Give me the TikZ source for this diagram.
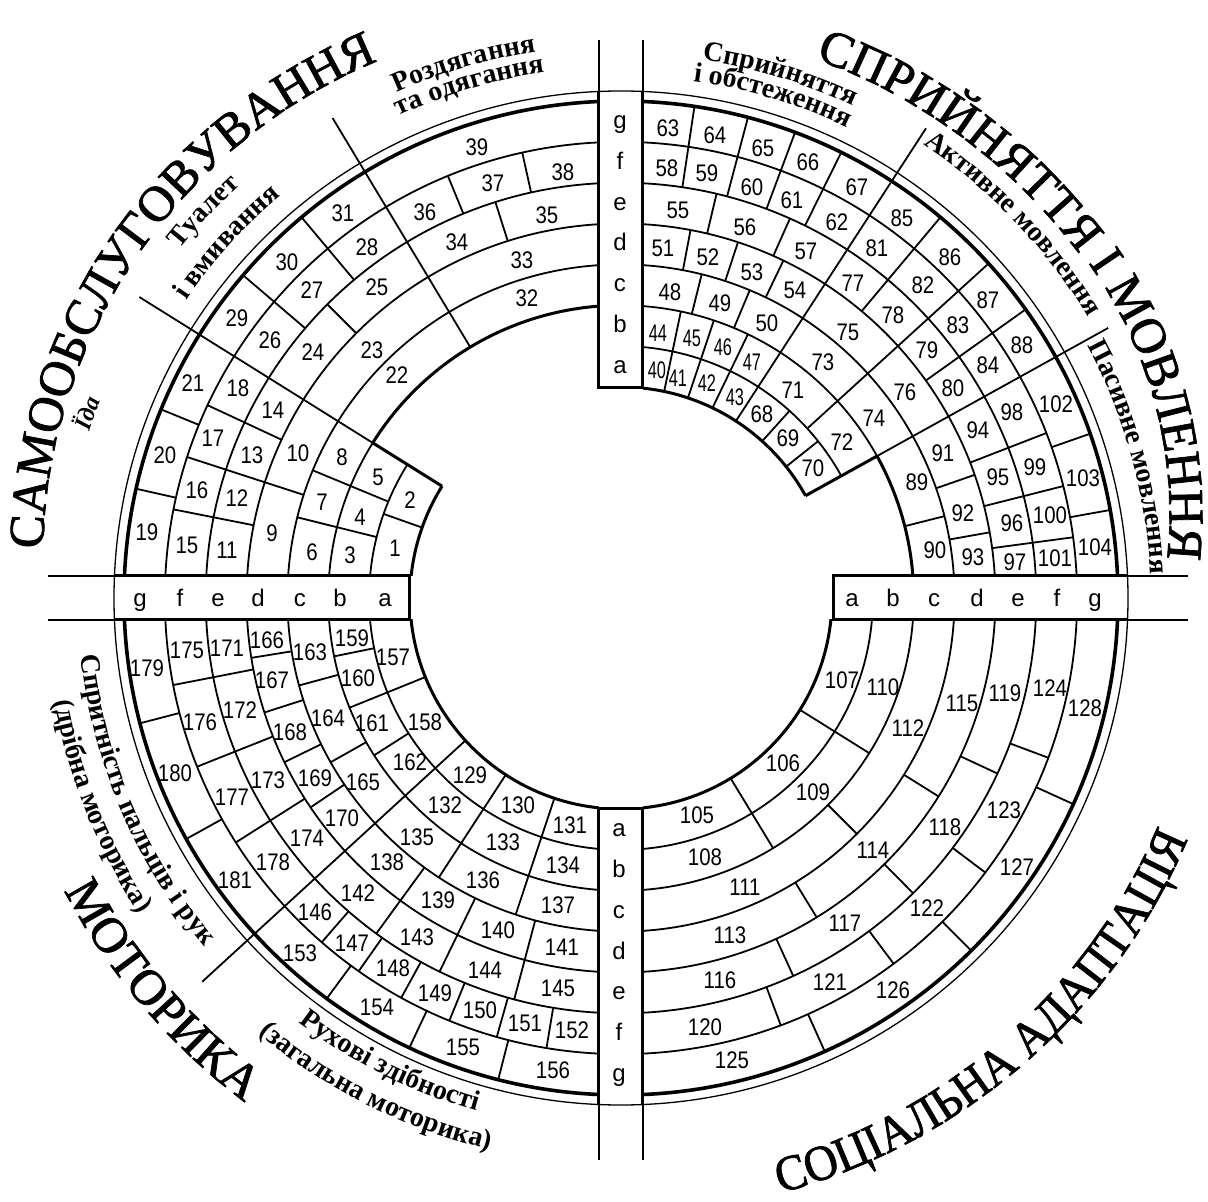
\documentclass[tikz,border=0pt]{standalone}
\usepackage{fontspec}
\setmainfont{Liberation Serif}
\newfontfamily\numfam[FakeStretch=0.85]{Liberation Sans}
\newfontfamily\numnarrow[FakeStretch=0.68]{Liberation Sans}
\newfontfamily\letfam{Liberation Sans}
\newfontfamily\bigfam[FakeBold=1.5]{Liberation Serif}
\newfontfamily\bignarrow[FakeStretch=0.93,FakeBold=1.5]{Liberation Serif}
\usetikzlibrary{decorations.text}

\def\radA{211}
\def\radB{251.86}
\def\radC{292.71}
\def\radD{333.57}
\def\radE{374.43}
\def\radF{415.29}
\def\radG{456.14}
\def\radH{497}
\def\radT{507}

\newcommand\bigfnt{\bigfam\fontsize{50}{60}\selectfont}
\newcommand\bigfntn{\bignarrow\fontsize{50}{60}\selectfont}
\newcommand\labfnt{\bfseries\fontsize{28}{32}\selectfont}
\newcommand\idafnt{\bfseries\itshape\fontsize{24}{28}\selectfont}

\tikzset{
 cell/.style={line width=1.8pt},
 border/.style={line width=3pt},
 outerc/.style={line width=3.6pt},
 thinl/.style={line width=1.3pt},
 num/.style={font=\numfam\fontsize{24}{26}\selectfont, inner sep=0pt},
 numsm/.style={font=\numnarrow\fontsize{24}{26}\selectfont, inner sep=0pt},
 letr/.style={font=\letfam\fontsize{24}{26}\selectfont, inner sep=0pt, anchor=base},
 bigtxt/.style={decorate, decoration={text along path, text align=center, text={|\bigfnt|#1}}},
 bigtxtn/.style={decorate, decoration={text along path, text align=center, text={|\bigfntn|#1}}},
 labtxt/.style={decorate, decoration={text along path, text align=center, text={|\labfnt|#1}}},
 idatxt/.style={decorate, decoration={text along path, text align=center, text={|\idafnt|#1}}},
}
\newcommand\dv[3]{\draw[cell] (#1:#2) -- (#1:#3);}

\begin{document}
\begin{tikzpicture}[x=1pt,y=1pt]
\useasboundingbox (-621,-604) rectangle (587,598);

% ---------- quadrant arcs ----------
% top-left
\begin{scope}
\clip (-700,22) rectangle (-22,700);
\draw[border] (148:\radA) arc[start angle=148,end angle=180,radius=\radA];
\draw[cell] (148:\radB) arc[start angle=148,end angle=180,radius=\radB];
\draw[border] (90:\radC) arc[start angle=90,end angle=148,radius=\radC];
\draw[cell] (148:\radC) arc[start angle=148,end angle=180,radius=\radC];
\foreach \r in {\radD,\radE,\radF,\radG} \draw[cell] (90:\r) arc[start angle=90,end angle=180,radius=\r];
\draw[outerc] (90:\radH) arc[start angle=90,end angle=180,radius=\radH];
\end{scope}
% top-right
\begin{scope}
\clip (22,22) rectangle (700,700);
\draw[border] (29:\radA) arc[start angle=29,end angle=90,radius=\radA];
\draw[cell] (29:\radB) arc[start angle=29,end angle=90,radius=\radB];
\draw[border] (0:\radC) arc[start angle=0,end angle=29,radius=\radC];
\draw[cell] (29:\radC) arc[start angle=29,end angle=90,radius=\radC];
\foreach \r in {\radD,\radE,\radF,\radG} \draw[cell] (0:\r) arc[start angle=0,end angle=90,radius=\r];
\draw[outerc] (0:\radH) arc[start angle=0,end angle=90,radius=\radH];
\end{scope}
% bottom-left
\begin{scope}
\clip (-700,-22) rectangle (-22,-700);
\draw[border] (180:\radA) arc[start angle=180,end angle=270,radius=\radA];
\foreach \r in {\radB,\radC,\radD,\radE,\radF,\radG} \draw[cell] (180:\r) arc[start angle=180,end angle=270,radius=\r];
\draw[outerc] (180:\radH) arc[start angle=180,end angle=270,radius=\radH];
\end{scope}
% bottom-right
\begin{scope}
\clip (22,-22) rectangle (700,-700);
\draw[border] (270:\radA) arc[start angle=270,end angle=360,radius=\radA];
\foreach \r in {\radB,\radC,\radD,\radE,\radF,\radG} \draw[cell] (270:\r) arc[start angle=270,end angle=360,radius=\r];
\draw[outerc] (270:\radH) arc[start angle=270,end angle=360,radius=\radH];
\end{scope}

% thin outer circle
\draw[thinl] (0,0) circle[radius=\radT];

% ---------- strips ----------
\draw[border] (-507,22) -- (-211,22) -- (-211,-22) -- (-507,-22);
\draw[border] (507,22) -- (212,22) -- (212,-22) -- (507,-22);
\draw[border] (-22,507) -- (-22,210) -- (22,210) -- (22,507);
\draw[border] (-22,-507) -- (-22,-210) -- (22,-210) -- (22,-507);
\draw[thinl] (-573,22) -- (-507,22);
\draw[thinl] (-573,-22) -- (-507,-22);
\draw[thinl] (507,22) -- (567,22);
\draw[thinl] (507,-22) -- (567,-22);
\draw[thinl] (-22,507) -- (-22,558);
\draw[thinl] (22,507) -- (22,558);
\draw[thinl] (-22,-507) -- (-22,-562);
\draw[thinl] (22,-507) -- (22,-562);

% strip letters
\foreach \l/\x in {a/-236,b/-281,c/-321,d/-363,e/-403,f/-441,g/-481}
  \node[letr] (L\l) at (\x,-9) {\l};
\foreach \l/\x in {a/231,b/272,c/313,d/356,e/397,f/436,g/474}
  \node[letr] (R\l) at (\x,-9) {\l};
\foreach \l/\y in {a/231.4,b/272.3,c/313.1,d/354,e/394.9,f/435.7,g/476.6}
  \node[letr] (T\l) at (-1,\y-7) {\l};
\foreach \l/\y in {a/231.4,b/272.3,c/313.1,d/354,e/394.9,f/435.7,g/476.6}
  \node[letr] (B\l) at (-2,-\y-7) {\l};

% ---------- sector dividers ----------
\draw[border] (148:\radA) -- (148:\radC);
\draw[cell] (148:\radC) -- (148:568);
\draw[cell] (121:\radC) -- (121:560);
\draw[cell] (57:\radA) -- (57:560);
\draw[border] (29:\radA) -- (29:\radC);
\draw[cell] (29:\radC) -- (29:557);
\draw[cell] (222.5:\radA) -- (222.5:568);

% ---------- cell dividers ----------
% top-left
\dv{160.5}{\radA}{\radB}
\dv{166}{\radB}{\radD}
\dv{157.5}{\radB}{\radD}
\dv{162}{\radD}{\radG}
\dv{168.8}{\radE}{\radG}
\dv{155}{\radE}{\radG}
\dv{167.3}{\radG}{\radH}
\dv{157.7}{\radG}{\radH}
\dv{135}{\radE}{\radF}
\dv{139.5}{\radF}{\radH}
\dv{130}{\radF}{\radH}
\dv{107.6}{\radE}{\radF}
\dv{112.3}{\radF}{\radG}
\dv{102.5}{\radF}{\radG}
% top-right
\dv{78.2}{\radA}{\radC}
\dv{71.5}{\radA}{\radC}
\dv{64.3}{\radA}{\radC}
\dv{76}{\radC}{\radD}
\dv{67.3}{\radC}{\radD}
\dv{79.3}{\radD}{\radE}
\dv{71.8}{\radD}{\radE}
\dv{64.3}{\radD}{\radE}
\dv{76.7}{\radE}{\radF}
\dv{66}{\radE}{\radF}
\dv{81.5}{\radF}{\radH}
\dv{75.2}{\radF}{\radH}
\dv{69.5}{\radF}{\radH}
\dv{63.7}{\radF}{\radH}
\dv{48}{\radA}{\radB}
\dv{38.5}{\radA}{\radB}
\dv{42.3}{\radB}{\radH}
\dv{50}{\radE}{\radH}
\dv{35.5}{\radE}{\radH}
\dv{14.2}{\radC}{\radD}
\dv{19.2}{\radD}{\radE}
\dv{10.1}{\radD}{\radE}
\dv{21.2}{\radE}{\radG}
\dv{14.2}{\radE}{\radG}
\dv{7.65}{\radE}{\radG}
\dv{19.3}{\radG}{\radH}
\dv{10.2}{\radG}{\radH}
% bottom-left
\dv{202}{\radA}{\radC}
\dv{191.5}{\radB}{\radC}
\dv{212.5}{\radB}{\radC}
\dv{195.2}{\radC}{\radD}
\dv{209.5}{\radC}{\radD}
\dv{189.2}{\radD}{\radE}
\dv{197.8}{\radD}{\radE}
\dv{206}{\radD}{\radE}
\dv{214}{\radD}{\radE}
\dv{191}{\radE}{\radG}
\dv{201.7}{\radE}{\radG}
\dv{212.4}{\radE}{\radG}
\dv{194.6}{\radG}{\radH}
\dv{209}{\radG}{\radH}
\dv{236.9}{\radA}{\radD}
\dv{251.6}{\radA}{\radD}
\dv{233.9}{\radD}{\radF}
\dv{244.1}{\radD}{\radF}
\dv{255.1}{\radD}{\radF}
\dv{229}{\radF}{\radG}
\dv{234.9}{\radF}{\radG}
\dv{241.2}{\radF}{\radG}
\dv{247.9}{\radF}{\radG}
\dv{254.2}{\radF}{\radG}
\dv{260.6}{\radF}{\radG}
\dv{233.7}{\radG}{\radH}
\dv{244.8}{\radG}{\radH}
\dv{255.7}{\radG}{\radH}
% bottom-right
\dv{301.3}{\radA}{\radC}
\dv{328}{\radA}{\radC}
\dv{315}{\radC}{\radD}
\dv{301.5}{\radD}{\radE}
\dv{328}{\radD}{\radE}
\dv{294.5}{\radE}{\radF}
\dv{314.7}{\radE}{\radF}
\dv{335}{\radE}{\radF}
\dv{290.5}{\radF}{\radG}
\dv{306.7}{\radF}{\radG}
\dv{323}{\radF}{\radG}
\dv{339.5}{\radF}{\radG}
\dv{294.2}{\radG}{\radH}
\dv{314.8}{\radG}{\radH}
\dv{335.5}{\radG}{\radH}

% ---------- cell numbers (image coordinates) ----------
\begin{scope}[y=-1pt, shift={(-621,-598)}]
\foreach \n/\x/\y in {1/395/548, 2/410/500, 3/350/555, 4/360/517, 5/378/477, 6/312/552, 7/322/502, 8/342/457, 9/272/533, 10/298/453, 11/227/550, 12/237/498, 13/252/455, 14/273/410, 15/187/545, 16/197/490, 17/213/438, 18/238/388, 19/147/532, 20/165/455, 21/193/383, 22/397/375, 23/372/350, 24/313/352, 25/377/287, 26/270/340, 27/312/290, 28/367/247, 29/237/318, 30/287/262, 31/343/213, 32/527/298, 33/522/260, 34/457/242, 35/547/215, 36/425/212, 37/493/183, 38/563/172, 39/477/147}
  \node[num] (n\n) at (\x,\y) {\n};
\foreach \n/\x/\y in {40/657/370, 41/678/378, 42/707/383, 43/735/397, 44/658/333, 45/692/338, 46/723/347, 47/752/362}
  \node[numsm] (n\n) at (\x,\y) {\n};
\foreach \n/\x/\y in {48/670/292, 49/720/303, 50/767/323, 51/663/248, 52/708/257, 53/752/272, 54/795/290, 55/678/210, 56/745/227, 57/806/251, 58/667/168, 59/707/173, 60/752/187, 61/792/200, 62/837/222, 63/668/128, 64/715/135, 65/763/148, 66/808/162, 67/857/187, 68/762/414, 69/788/438, 70/813/468, 71/793/390, 72/842/442, 73/823/362, 74/874/418, 75/848/332, 76/905/392, 77/853/283, 78/893/315, 79/927/350, 80/953/388, 81/877/248, 82/923/285, 83/958/325, 84/988/365, 85/902/218, 86/950/257, 87/988/300, 88/1022/345, 89/917/482, 90/935/550, 91/943/453, 92/963/513, 93/973/557, 94/978/430, 95/998/477, 96/1012/523, 97/1015/562, 98/1012/412, 99/1035/467, 100/1050/515, 101/1055/558, 102/1056/404, 103/1083/478, 104/1095/547}
  \node[num] (n\n) at (\x,\y) {\n};
\foreach \n/\x/\y in {105/697/815, 106/783/763, 107/842/680, 108/705/857, 109/813/792, 110/883/687, 111/745/887, 112/908/728, 113/730/935, 114/873/850, 115/962/703, 116/720/980, 117/845/923, 118/945/827, 119/1005/693, 120/705/1027, 121/830/982, 122/927/908, 123/1004/810, 124/1050/688, 125/732/1060, 126/893/990, 127/1017/867, 128/1085/708}
  \node[num] (n\n) at (\x,\y) {\n};
\foreach \n/\x/\y in {129/470/775, 130/518/805, 131/570/825, 132/445/805, 133/503/842, 134/563/865, 135/417/837, 136/483/880, 137/558/905, 138/387/862, 139/438/900, 140/498/930, 141/562/947, 142/358/893, 143/417/937, 144/485/970, 145/558/988, 146/315/912, 147/352/943, 148/393/968, 149/435/993, 150/480/1010, 151/525/1023, 152/572/1030, 153/300/953, 154/377/1007, 155/463/1047, 156/553/1070, 157/393/657, 158/425/722, 159/352/638, 160/358/678, 161/372/723, 162/410/762, 163/310/652, 164/328/718, 165/363/782, 166/267/640, 167/272/680, 168/290/732, 169/315/778, 170/342/818, 171/227/648, 172/240/710, 173/268/780, 174/307/838, 175/187/650, 176/200/722, 177/232/797, 178/273/862, 179/147/668, 180/175/773, 181/235/880}
  \node[num] (n\n) at (\x,\y) {\n};
\end{scope}

% ---------- big curved titles ----------
\path[bigtxt=САМООБСЛУГОВУВАННЯ] plot[domain=0:110, samples=221] ({200-\x}:{593-0.008*(65-\x)^2});
\path[bigtxt=СПРИЙНЯТТЯ І МОВЛЕННЯ] plot[domain=0:110, samples=221] ({91.5-\x}:{ifthenelse(91.5-\x>36, 573, 575-0.027*(36-91.5+\x)^2)});
\path[bigtxt=МОТОРИКА] (180.5:629) arc[start angle=180.5,end angle=260.5,radius=629];
\path[bigtxtn=СОЦІАЛЬНА АДАПТАЦІЯ] (256:616) arc[start angle=256,end angle=366,radius=616];

% ---------- small curved labels ----------
\path[idatxt=Їда] (180.9:557) arc[start angle=180.9,end angle=140.9,radius=557];
\path[labtxt=Туалет] (167.2:562) arc[start angle=167.2,end angle=107.2,radius=562];
\path[labtxt=і вмивання] (167.9:527) arc[start angle=167.9,end angle=107.9,radius=527];
\path[labtxt=Роздягання] (136.4:553) arc[start angle=136.4,end angle=76.4,radius=553];
\path[labtxt=та одягання] (136.5:531) arc[start angle=136.5,end angle=76.5,radius=531];
\path[labtxt=Сприйняття] (103.1:544) arc[start angle=103.1,end angle=43.1,radius=544];
\path[labtxt=і обстеження] (103.2:522) arc[start angle=103.2,end angle=43.2,radius=522];
\path[labtxt=Активне мовлення] (78.7:545) arc[start angle=78.7,end angle=8.7,radius=545];
\path[labtxt=Пасивне мовлення] (50.5:530) arc[start angle=50.5,end angle=-19.5,radius=530];
\path[labtxt=Спритність пальців і рук] (163:543) arc[start angle=163,end angle=243,radius=543];
\path[labtxt=(дрібна моторика)] (166.8:576) arc[start angle=166.8,end angle=236.8,radius=576];
\path[labtxt=Рухові здібності] (208.5:533) arc[start angle=208.5,end angle=278.5,radius=533];
\path[labtxt=(загальна моторика)] (208.4:567) arc[start angle=208.4,end angle=278.4,radius=567];

\end{tikzpicture}
\end{document}
